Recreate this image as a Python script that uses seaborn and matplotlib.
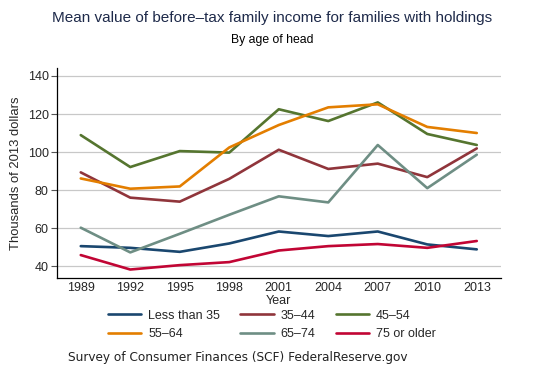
import matplotlib
matplotlib.use("Agg")
import matplotlib.pyplot as plt
import seaborn as sns
import pandas as pd

years = [1989, 1992, 1995, 1998, 2001, 2004, 2007, 2010, 2013]
less_than_35 = [50.5, 49.6, 47.5, 51.9, 58.2, 55.8, 58.2, 51.4, 48.8]
age_35_44 = [89.3, 76.0, 73.9, 85.9, 101.2, 91.1, 93.9, 86.8, 101.9]
age_45_54 = [108.9, 92.1, 100.5, 99.7, 122.5, 116.3, 126.1, 109.5, 103.7]
age_55_64 = [86.1, 80.7, 81.9, 102.4, 114.2, 123.5, 125.1, 113.2, 110.0]
age_65_74 = [60.2, 47.2, 57.0, 67.0, 76.7, 73.5, 103.7, 81.0, 98.6]
age_75_plus = [45.8, 38.2, 40.5, 42.1, 48.2, 50.5, 51.6, 49.6, 53.2]

groups = ["Less than 35", "35\u201344", "45\u201354", "55\u201364", "65\u201374", "75 or older"]
series = [less_than_35, age_35_44, age_45_54, age_55_64, age_65_74, age_75_plus]
colors = ["#1a476f", "#90353b", "#55752f", "#e37e00", "#6e8e84", "#c10534"]
yticks = [40, 60, 80, 100, 120, 140]

rows = []
for g, vals in zip(groups, series):
    for y, v in zip(years, vals):
        rows.append({"Year": y, "Value": v, "Group": g})
df = pd.DataFrame(rows)

sns.set_style("white")
plt.rcParams["font.family"] = ["Liberation Sans", "DejaVu Sans"]

fig = plt.figure(figsize=(5.35, 3.71), dpi=100)
ax = fig.add_axes([57 / 535, 1 - 277.5 / 371, (500.7 - 57) / 535, (277.5 - 68) / 371])

sns.lineplot(data=df, x="Year", y="Value", hue="Group", hue_order=groups,
             palette=colors, linewidth=1.9, ax=ax, legend=True)

ax.set_xlim(1987.56, 2014.45)
ax.set_ylim(34.0, 144.2)
ax.set_xticks(years)
ax.set_xticklabels([str(y) for y in years], fontsize=9)
ax.set_yticks(yticks)
ax.set_yticklabels([str(t) for t in yticks], fontsize=9)
ax.tick_params(axis="x", length=0, pad=3)
ax.tick_params(axis="y", length=4, width=0.8, color="#555555", pad=2, left=True)
ax.grid(axis="y", color="#c8c8c8", linewidth=0.9)
ax.grid(axis="x", visible=False)
ax.set_axisbelow(True)
for s in ["top", "right"]:
    ax.spines[s].set_visible(False)
for s in ["left", "bottom"]:
    ax.spines[s].set_color("black")
    ax.spines[s].set_linewidth(0.9)

ax.set_xlabel("Year", fontsize=9, labelpad=1)
ax.set_ylabel("Thousands of 2013 dollars", fontsize=9.4, labelpad=4)

handles, labels = ax.get_legend_handles_labels()
order = [0, 3, 1, 4, 2, 5]
ax.legend([handles[i] for i in order], [labels[i] for i in order],
          ncol=3, loc="upper center", bbox_to_anchor=(0.484, -0.13),
          frameon=False, fontsize=9, handlelength=2.7, handletextpad=0.55,
          columnspacing=1.6, labelspacing=0.5, borderaxespad=0)

fig.text(272 / 535, 1 - 18 / 371, "Mean value of before\u2013tax family income for families with holdings",
         ha="center", va="center", fontsize=11, color="#1e2a4a")
fig.text(272 / 535, 1 - 40 / 371, "By age of head", ha="center", va="center",
         fontsize=8.8, color="black")
fig.text(68 / 535, 1 - 357 / 371, "Survey of Consumer Finances (SCF) FederalReserve.gov",
         ha="left", va="center", fontsize=8.7, family="DejaVu Sans", color="#222222")

fig.savefig("out.png", dpi=100)
